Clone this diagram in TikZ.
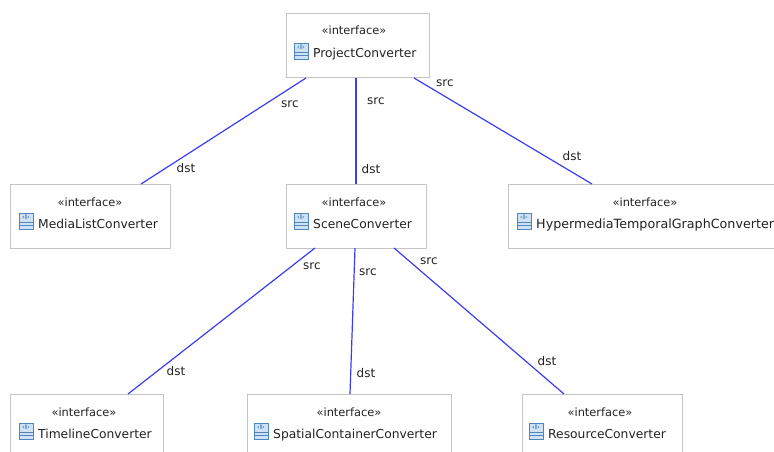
\documentclass[tikz,border=0pt]{standalone}
\usepackage{fontspec}
\setmainfont{DejaVu Sans}
\usetikzlibrary{calc}
\definecolor{boxline}{HTML}{C4C4C4}
\definecolor{conn}{HTML}{3C3CF0}
\definecolor{txt}{HTML}{222222}
\definecolor{iconline}{HTML}{4F86BE}
\definecolor{iconfill}{HTML}{CFE2F5}
\tikzset{
  x=1pt,y=-1pt,
  cls/.style={draw=boxline,line width=1pt,fill=white,minimum height=64pt,inner sep=0pt,outer sep=0pt,anchor=north west},
  stereo/.style={font=\fontsize{11.4pt}{13pt}\selectfont,text=txt,inner sep=0pt,anchor=base},
  cname/.style={font=\fontsize{12.3pt}{14pt}\selectfont,text=txt,inner sep=0pt,anchor=base west},
  lbl/.style={font=\fontsize{12pt}{14pt}\selectfont,text=txt,inner sep=0pt,anchor=base},
  link/.style={draw=conn,line width=1.2pt},
  pics/ifaceicon/.style={code={
    \draw[iconline,fill=iconfill,line width=.9pt] (0,0) rectangle (14,16);
    \draw[iconline,line width=.8pt] (0,9.5)--(14,9.5) (0,12.8)--(14,12.8);
    \node[inner sep=0pt,text=iconline,font=\fontsize{6.5pt}{6.5pt}\selectfont\bfseries] at (7,4.6) {‹I›};
  }}
}
\begin{document}
\begin{tikzpicture}
\useasboundingbox (0,0) rectangle (774,452);
\clip (0,0) rectangle (774,452);
\node[cls,minimum width=143pt] (pc) at (286,14) {};
\node[cls,minimum width=160pt] (ml) at (10,184) {};
\node[cls,minimum width=140pt] (sc) at (286,184) {};
\node[cls,minimum width=280pt] (hm) at (508,184) {};
\node[cls,minimum width=153pt] (tl) at (10,394) {};
\node[cls,minimum width=204pt] (sp) at (247,394) {};
\node[cls,minimum width=160pt] (rc) at (522,394) {};

\draw[link] ([xshift=20pt]pc.south west) -- ([xshift=131pt]ml.north west);
\draw[link] ([xshift=70pt]pc.south west) -- ([xshift=70pt]sc.north west);
\draw[link] ([xshift=128pt]pc.south west) -- ([xshift=84pt]hm.north west);
\draw[link] ([xshift=29pt]sc.south west) -- ([xshift=118pt]tl.north west);
\draw[link] ([xshift=69pt]sc.south west) -- ([xshift=103pt]sp.north west);
\draw[link] ([xshift=108pt]sc.south west) -- ([xshift=42pt]rc.north west);

\node[stereo] (s1) at (354,35) {«interface»};
\pic at (294,43) {ifaceicon};
\node[cname] (n1) at (313,58) {ProjectConverter};
\node[stereo] (s2) at (90,206) {«interface»};
\pic at (19,213) {ifaceicon};
\node[cname] (n2) at (38,228) {MediaListConverter};
\node[stereo] (s3) at (354,206) {«interface»};
\pic at (294,213) {ifaceicon};
\node[cname] (n3) at (313,228) {SceneConverter};
\node[stereo] (s4) at (645,206) {«interface»};
\pic at (517,213) {ifaceicon};
\node[cname,font=\fontsize{12.7pt}{14pt}\selectfont] (n4) at (536,228) {HypermediaTemporalGraphConverter};
\node[stereo] (s5) at (84,416) {«interface»};
\pic at (19,423) {ifaceicon};
\node[cname] (n5) at (38,438) {TimelineConverter};
\node[stereo] (s6) at (349,416) {«interface»};
\pic at (254,423) {ifaceicon};
\node[cname] (n6) at (273,438) {SpatialContainerConverter};
\node[stereo] (s7) at (600,416) {«interface»};
\pic at (529,423) {ifaceicon};
\node[cname] (n7) at (548,438) {ResourceConverter};

\node[lbl] (a1) at (290,107) {src};
\node[lbl] (a2) at (186,172) {dst};
\node[lbl] (a3) at (376,104) {src};
\node[lbl] (a4) at (371,173) {dst};
\node[lbl] (a5) at (445,86) {src};
\node[lbl] (a6) at (572,160) {dst};
\node[lbl] (a7) at (312,269) {src};
\node[lbl] (a8) at (176,375) {dst};
\node[lbl] (a9) at (368,275) {src};
\node[lbl] (a10) at (366,377) {dst};
\node[lbl] (a11) at (429,264) {src};
\node[lbl] (a12) at (547,365) {dst};
\end{tikzpicture}
\end{document}
